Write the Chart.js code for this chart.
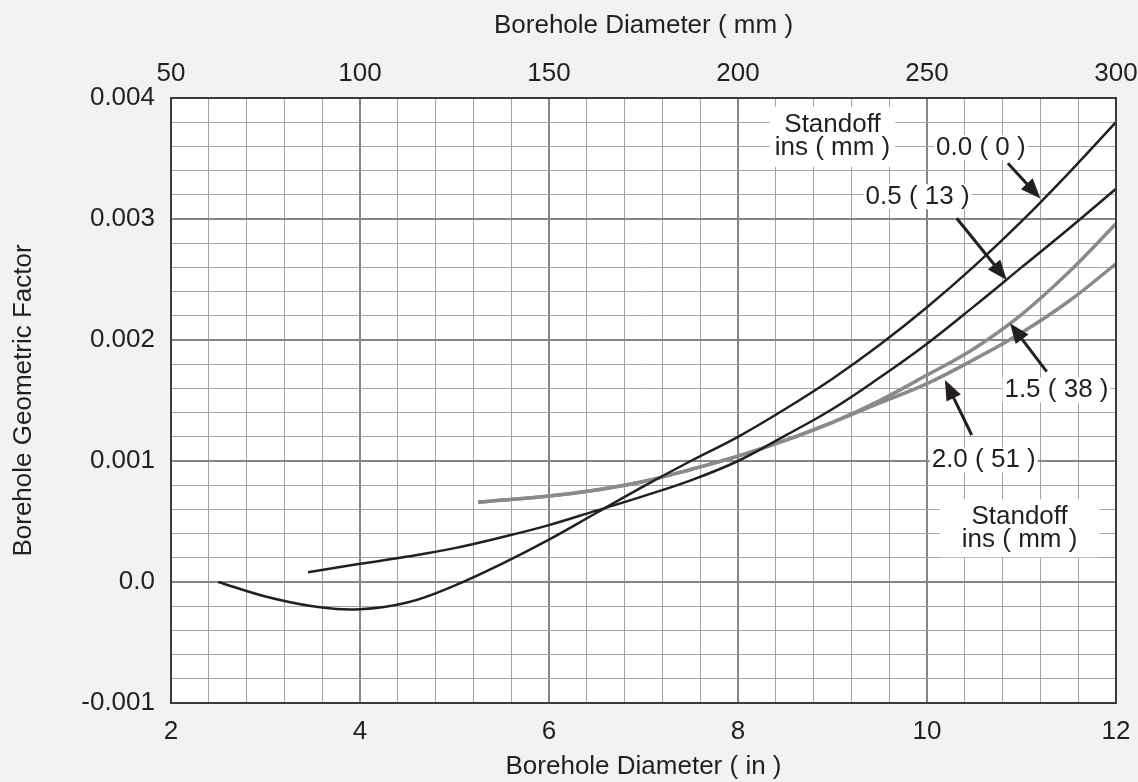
<!DOCTYPE html>
<html>
<head>
<meta charset="utf-8">
<script src="https://cdn.jsdelivr.net/npm/chart.js@4.4.0/dist/chart.umd.min.js"></script>
<style>
html, body { margin: 0; padding: 0; background: #f0f2f4; }
#wrap { width: 1138px; height: 782px; position: relative; }
</style>
</head>
<body>
<div id="wrap"><canvas id="chart"></canvas></div>
<script>
// borehole diameter (in) and geometric factor, one pair per standoff curve
const xIn00 = [2.5, 3, 3.5, 4, 4.5, 5, 5.5, 6, 6.5, 7, 7.5, 8, 8.5, 9, 9.5, 10, 10.5, 11, 11.5, 12];
const gf00 = [0, -0.00012, -0.0002, -0.000225, -0.00017, -0.00003, 0.00015, 0.00035, 0.00057, 0.00079, 0.001, 0.0012, 0.00143, 0.00168, 0.00196, 0.00227, 0.00261, 0.00298, 0.00338, 0.0038];

const xIn05 = [3.45, 4, 4.5, 5, 5.5, 6, 6.5, 7, 7.5, 8, 8.5, 9, 9.5, 10, 10.5, 11, 11.5, 12];
const gf05 = [0.00008, 0.00015, 0.00021, 0.00028, 0.00037, 0.00047, 0.00059, 0.00071, 0.00084, 0.001, 0.00121, 0.00143, 0.00169, 0.00197, 0.00228, 0.0026, 0.00292, 0.00325];

const xIn15 = [5.25, 6, 6.5, 7, 7.5, 8, 8.5, 9, 9.5, 10, 10.5, 11, 11.5, 12];
const gf15 = [0.00066, 0.00071, 0.00076, 0.00083, 0.00093, 0.00104, 0.00117, 0.00132, 0.0015, 0.00171, 0.00193, 0.00221, 0.00256, 0.00296];

const xIn20 = [5.25, 6, 6.5, 7, 7.5, 8, 8.5, 9, 9.5, 10, 10.5, 11, 11.5, 12];
const gf20 = [0.00066, 0.00071, 0.00076, 0.00083, 0.00093, 0.00104, 0.00117, 0.00132, 0.00148, 0.00164, 0.00184, 0.00206, 0.00232, 0.00263];

const inTicks = ['2', '4', '6', '8', '10', '12'];
const mmTicks = ['50', '100', '150', '200', '250', '300'];
const gfTicks = ['-0.001', '0.0', '0.001', '0.002', '0.003', '0.004'];

// curve labels and arrows, in chart units (in, factor)
const notes = [
  { text: ['Standoff', 'ins ( mm )'], x: 9.0, y: 0.00368, padX: 5, padY: 7 },
  { text: ['0.0 ( 0 )'], x: 10.57, y: 0.00359, padX: 2, padY: 1 },
  { text: ['0.5 ( 13 )'], x: 9.9, y: 0.003184, padX: 2, padY: 1 },
  { text: ['1.5 ( 38 )'], x: 11.37, y: 0.001587, padX: 2, padY: 1 },
  { text: ['2.0 ( 51 )'], x: 10.6, y: 0.001008, padX: 2, padY: 1 },
  { text: ['Standoff', 'ins ( mm )'], x: 10.98, y: 0.000444, padX: 22, padY: 6 }
];
const arrows = [
  { from: [10.856, 0.00346], to: [11.2, 0.00317] },
  { from: [10.314, 0.003006], to: [10.843, 0.002496] },
  { from: [11.267, 0.001738], to: [10.878, 0.002138] },
  { from: [10.473, 0.001215], to: [10.19, 0.00167] }
];

const ink = '#231f20';
const grey = '#8a8a8a';
const font = '"Liberation Sans", Arial, Helvetica, sans-serif';

Chart.defaults.font.family = font;
Chart.defaults.font.size = 26;
Chart.defaults.color = ink;

function pts(xs, ys) {
  return xs.map((v, i) => ({ x: v, y: ys[i] }));
}

function gridColor(c) {
  return c.index % 5 === 0 ? '#858585' : '#a4a4a4';
}
function gridWidth(c) {
  return c.index % 5 === 0 ? 2 : 1;
}

// fixed axis sizes so the plot box lands where the original one is
function fitX(h) {
  return s => { s.height = h; s.paddingLeft = 0; s.paddingRight = 0; };
}

const decor = {
  id: 'decor',
  beforeDraw(chart) {
    const { ctx, chartArea: a } = chart;
    ctx.save();
    ctx.fillStyle = '#ffffff';
    ctx.fillRect(a.left, a.top, a.right - a.left, a.bottom - a.top);
    ctx.restore();
  },
  afterDatasetsDraw(chart) {
    const { ctx, chartArea: a } = chart;
    const sx = chart.scales.x, sy = chart.scales.y;
    ctx.save();
    ctx.strokeStyle = '#3a3a3a';
    ctx.lineWidth = 2;
    ctx.strokeRect(a.left, a.top, a.right - a.left, a.bottom - a.top);

    ctx.font = '26px ' + font;
    ctx.textAlign = 'center';
    ctx.textBaseline = 'middle';
    const gap = 23;
    notes.forEach(n => {
      const cx = sx.getPixelForValue(n.x), cy = sy.getPixelForValue(n.y);
      const w = Math.max(...n.text.map(t => ctx.measureText(t).width)) + 2 * n.padX;
      const h = n.text.length * gap + 2 * n.padY;
      ctx.fillStyle = '#ffffff';
      ctx.fillRect(cx - w / 2, cy - h / 2, w, h);
      ctx.fillStyle = ink;
      n.text.forEach((t, i) => {
        ctx.fillText(t, cx, cy + (i - (n.text.length - 1) / 2) * gap);
      });
    });

    ctx.strokeStyle = ink;
    ctx.fillStyle = ink;
    ctx.lineWidth = 3;
    arrows.forEach(ar => {
      const x0 = sx.getPixelForValue(ar.from[0]), y0 = sy.getPixelForValue(ar.from[1]);
      const x1 = sx.getPixelForValue(ar.to[0]), y1 = sy.getPixelForValue(ar.to[1]);
      const len = Math.hypot(x1 - x0, y1 - y0);
      const ux = (x1 - x0) / len, uy = (y1 - y0) / len;
      const hl = 20, hw = 8;
      const bx = x1 - ux * hl, by = y1 - uy * hl;
      ctx.beginPath();
      ctx.moveTo(x0, y0);
      ctx.lineTo(bx + ux * 2, by + uy * 2);
      ctx.stroke();
      ctx.beginPath();
      ctx.moveTo(x1, y1);
      ctx.lineTo(bx - uy * hw, by + ux * hw);
      ctx.lineTo(bx + uy * hw, by - ux * hw);
      ctx.closePath();
      ctx.fill();
    });
    ctx.restore();
  }
};

const ctx = document.getElementById('chart').getContext('2d');
const myChart = new Chart(ctx, {
  type: 'line',
  data: {
    datasets: [
      { label: '0.0 ( 0 )', data: pts(xIn00, gf00), borderColor: ink, borderWidth: 2.5 },
      { label: '0.5 ( 13 )', data: pts(xIn05, gf05), borderColor: ink, borderWidth: 2.5 },
      { label: '1.5 ( 38 )', data: pts(xIn15, gf15), borderColor: grey, borderWidth: 3.5 },
      { label: '2.0 ( 51 )', data: pts(xIn20, gf20), borderColor: grey, borderWidth: 3.5 }
    ]
  },
  options: {
    responsive: true,
    maintainAspectRatio: false,
    animation: false,
    layout: { padding: { left: 0, right: 22, top: 0, bottom: 0 } },
    elements: {
      point: { radius: 0 },
      line: { tension: 0.4, fill: false }
    },
    scales: {
      x: {
        type: 'linear',
        position: 'bottom',
        min: 2,
        max: 12,
        afterFit: fitX(79),
        border: { display: false },
        grid: { color: gridColor, lineWidth: gridWidth, drawTicks: false },
        ticks: {
          stepSize: 0.4,
          autoSkip: false,
          maxRotation: 0,
          padding: 13,
          callback: (v, i) => (i % 5 === 0 ? inTicks[i / 5] : '')
        },
        title: { display: true, text: 'Borehole Diameter ( in )', padding: { top: 0, bottom: 0 } }
      },
      x2: {
        type: 'linear',
        position: 'top',
        min: 50,
        max: 300,
        afterFit: fitX(98),
        border: { display: false },
        grid: { display: false, drawTicks: false },
        ticks: {
          stepSize: 50,
          autoSkip: false,
          maxRotation: 0,
          padding: 9,
          callback: (v, i) => mmTicks[i]
        },
        title: { display: true, text: 'Borehole Diameter ( mm )', padding: { top: 10, bottom: 0 } }
      },
      y: {
        type: 'linear',
        min: -0.001,
        max: 0.004,
        afterFit: s => { s.width = 171; s.paddingTop = 0; s.paddingBottom = 0; },
        border: { display: false },
        grid: { color: gridColor, lineWidth: gridWidth, drawTicks: false },
        ticks: {
          stepSize: 0.0002,
          autoSkip: false,
          padding: 16,
          callback: (v, i) => (i % 5 === 0 ? gfTicks[i / 5] : '')
        },
        title: { display: true, text: 'Borehole Geometric Factor', padding: { top: 8, bottom: 0 } }
      }
    },
    plugins: {
      legend: { display: false },
      tooltip: { enabled: false }
    }
  },
  plugins: [decor]
});
</script>
</body>
</html>
